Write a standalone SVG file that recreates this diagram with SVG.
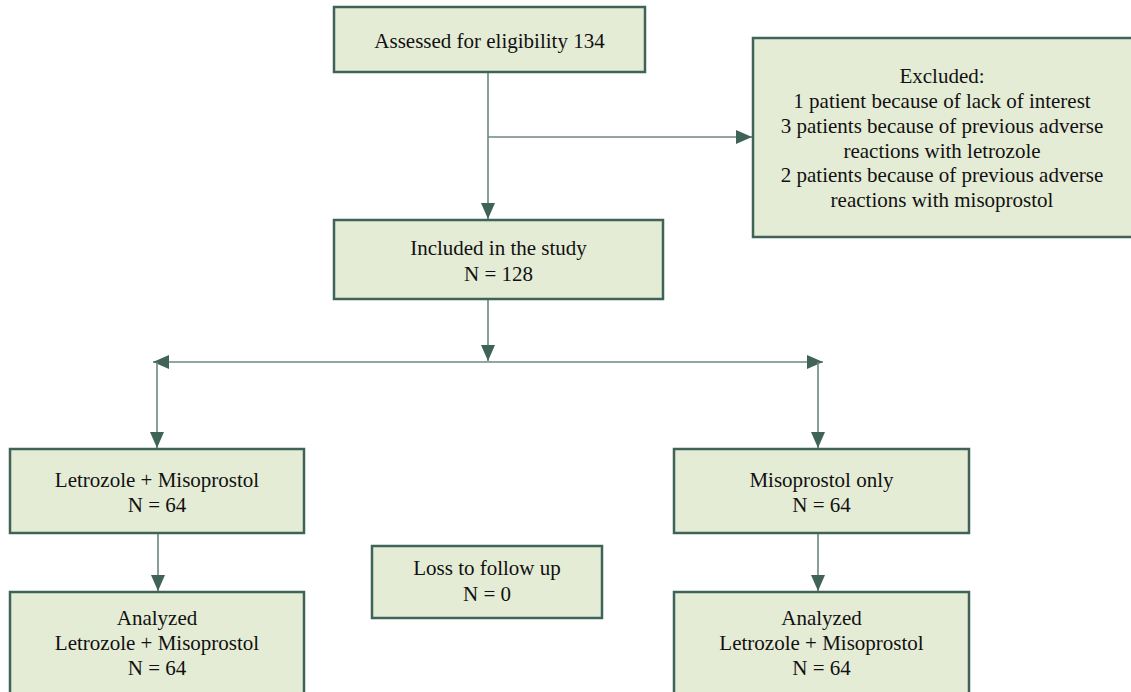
<svg xmlns="http://www.w3.org/2000/svg" width="1131" height="692" viewBox="0 0 1131 692">
<defs>
<style>
.box{fill:#e5ecd6;stroke:#3f6357;stroke-width:2.5}
.t{font-family:"Liberation Serif","Times New Roman",serif;font-size:21px;fill:#111;text-anchor:middle}
.c{fill:none;stroke:#6b887e;stroke-width:1.6}
</style>
<marker id="ah" viewBox="0 0 16 14" refX="16" refY="7" markerWidth="16" markerHeight="14" markerUnits="userSpaceOnUse" orient="auto">
<path d="M0,0 L16,7 L0,14 Z" fill="#3f6357"/>
</marker>
</defs>
<rect width="1131" height="692" fill="#fff"/>
<g id="connectors">
<line class="c" x1="488" y1="72" x2="488" y2="219" marker-end="url(#ah)"/>
<line class="c" x1="488" y1="137" x2="752" y2="137" marker-end="url(#ah)"/>
<line class="c" x1="488" y1="299" x2="488" y2="361" marker-end="url(#ah)"/>
<line class="c" x1="488" y1="362" x2="153" y2="362" marker-end="url(#ah)"/>
<line class="c" x1="488" y1="362" x2="823" y2="362" marker-end="url(#ah)"/>
<line class="c" x1="157" y1="362" x2="157" y2="448" marker-end="url(#ah)"/>
<line class="c" x1="818" y1="362" x2="818" y2="448" marker-end="url(#ah)"/>
<line class="c" x1="158" y1="533" x2="158" y2="591" marker-end="url(#ah)"/>
<line class="c" x1="818" y1="533" x2="818" y2="591" marker-end="url(#ah)"/>
</g>
<g id="assessed">
<rect class="box" x="334" y="7" width="311" height="65"/>
<text class="t" x="489.5" y="48">Assessed for eligibility 134</text>
</g>
<g id="excluded">
<rect class="box" x="753" y="38" width="400" height="199"/>
<text class="t" x="942" y="83">Excluded:</text>
<text class="t" x="942" y="108">1 patient because of lack of interest</text>
<text class="t" x="942" y="133">3 patients because of previous adverse</text>
<text class="t" x="942" y="157.5">reactions with letrozole</text>
<text class="t" x="942" y="182">2 patients because of previous adverse</text>
<text class="t" x="942" y="206.5">reactions with misoprostol</text>
</g>
<g id="included">
<rect class="box" x="334" y="220" width="329" height="79"/>
<text class="t" x="498.5" y="255">Included in the study</text>
<text class="t" x="498.5" y="281">N = 128</text>
</g>
<g id="letmiso">
<rect class="box" x="10" y="449" width="294" height="84"/>
<text class="t" x="157" y="487">Letrozole + Misoprostol</text>
<text class="t" x="157" y="512">N = 64</text>
</g>
<g id="misoonly">
<rect class="box" x="674" y="449" width="295" height="84"/>
<text class="t" x="821.5" y="487">Misoprostol only</text>
<text class="t" x="821.5" y="512">N = 64</text>
</g>
<g id="loss">
<rect class="box" x="372" y="546" width="230" height="72"/>
<text class="t" x="487" y="575">Loss to follow up</text>
<text class="t" x="487" y="601">N = 0</text>
</g>
<g id="analyzed-left">
<rect class="box" x="10" y="592" width="294" height="120"/>
<text class="t" x="157" y="625">Analyzed</text>
<text class="t" x="157" y="650">Letrozole + Misoprostol</text>
<text class="t" x="157" y="675">N = 64</text>
</g>
<g id="analyzed-right">
<rect class="box" x="674" y="592" width="295" height="120"/>
<text class="t" x="821.5" y="625">Analyzed</text>
<text class="t" x="821.5" y="650">Letrozole + Misoprostol</text>
<text class="t" x="821.5" y="675">N = 64</text>
</g>
</svg>
